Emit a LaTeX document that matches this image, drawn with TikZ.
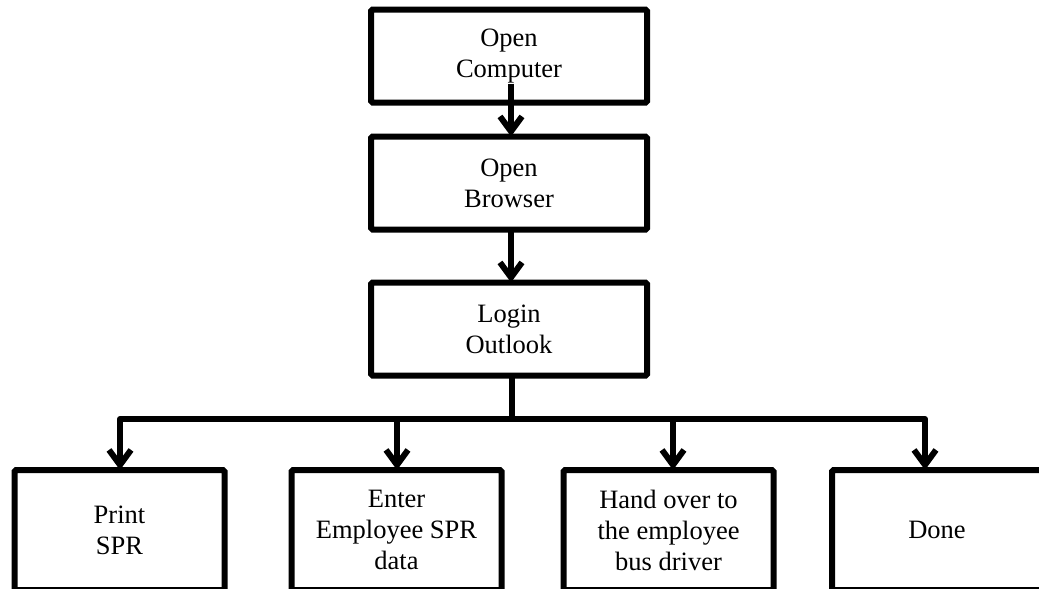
\documentclass[tikz,border=0pt]{standalone}
\usepackage{fontspec}
\setmainfont{Liberation Serif}
\usetikzlibrary{arrows.meta,calc}
\begin{document}
\begin{tikzpicture}[x=1pt,y=-1pt,
  every node/.style={font=\fontsize{26.5}{31}\selectfont, align=center, outer sep=0pt, inner sep=0pt},
  topbox/.style={draw, line width=6pt, rounded corners=1.5pt, minimum width=276pt, minimum height=93pt},
  lowbox/.style={draw, line width=6pt, rounded corners=1.5pt, minimum width=210pt, minimum height=120pt},
  link/.style={line width=6pt, line join=round},
  arr/.style={link, -{Straight Barb[length=15pt,width=22pt]}}]
\clip (0,0) rectangle (1039,589);
\useasboundingbox (0,0) rectangle (1039,589);

% main sequence
\node[topbox] (oc) at (509,56)  {Open\\Computer};
\node[topbox] (ob) at (509,183) {Open\\Browser};
\node[topbox] (lo) at (509,329) {Login\\Outlook};

% final steps
\node[lowbox] (ps) at (119.5,530) {Print\\SPR};
\node[lowbox] (es) at (396.5,530) {Enter\\Employee SPR\\data};
\node[lowbox] (hs) at (668.5,530) {Hand over to\\the employee\\bus driver};
\node[lowbox] (ds) at (937,530)   {Done};

% sequence arrows
\draw[arr] ($(oc.south)+(2,-19)$) -- ($(ob.north)+(2,0)$);
\draw[arr] ($(ob.south)+(2,0)$) -- ($(lo.north)+(2,0)$);

% branching bus
\coordinate (bj) at (512,419);
\coordinate (b1) at (120,419);
\coordinate (b2) at (397,419);
\coordinate (b3) at (673,419);
\coordinate (b4) at (925,419);
\draw[link] ($(lo.south)+(3,0)$) -- (bj);
\draw[arr] (bj) -| (b1 |- ps.north);
\draw[arr] (bj) -| (b4 |- ds.north);
\draw[arr] (b2) -- (b2 |- es.north);
\draw[arr] (b3) -- (b3 |- hs.north);
\end{tikzpicture}
\end{document}
